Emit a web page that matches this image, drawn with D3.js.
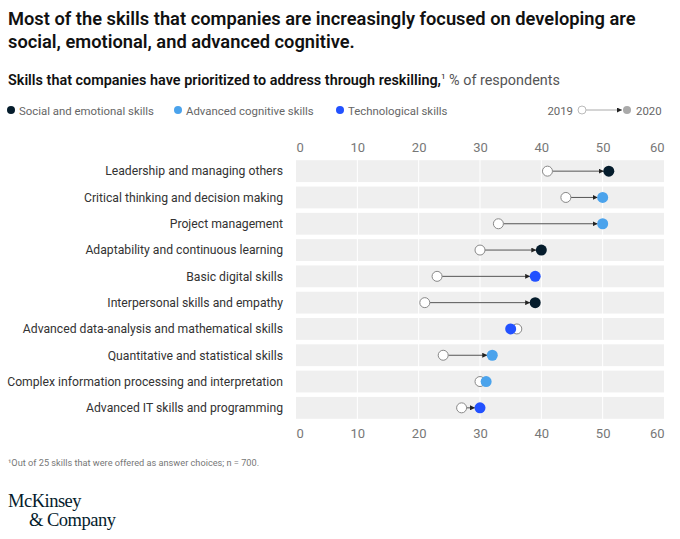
<!DOCTYPE html>
<html>
<head>
<meta charset="utf-8">
<script src="https://cdn.jsdelivr.net/npm/d3@7"></script>
<style>
  body { margin: 0; background: #fff; font-family: Roboto, "Liberation Sans", sans-serif; }
</style>
</head>
<body>
<div id="chart"></div>
<script>
// Chart data
const skills = [
  "Leadership and managing others",
  "Critical thinking and decision making",
  "Project management",
  "Adaptability and continuous learning",
  "Basic digital skills",
  "Interpersonal skills and empathy",
  "Advanced data-analysis and mathematical skills",
  "Quantitative and statistical skills",
  "Complex information processing and interpretation",
  "Advanced IT skills and programming"
];
const values2019 = [41, 44, 33, 30, 23, 21, 36, 24, 30, 27];
const values2020 = [51, 50, 50, 40, 39, 39, 35, 32, 31, 30];
const skillGroups = ["social", "cognitive", "cognitive", "social", "tech", "social", "tech", "cognitive", "cognitive", "tech"];
const groupNames = ["Social and emotional skills", "Advanced cognitive skills", "Technological skills"];
const groupKeys = ["social", "cognitive", "tech"];
const xTicks = [0, 10, 20, 30, 40, 50, 60];

const width = 680, height = 539;

const colorScale = d3.scaleOrdinal()
  .domain(groupKeys)
  .range(["#051c2c", "#4ba3ec", "#2251ff"]);

const svg = d3.select("#chart")
  .append("svg")
  .attr("width", width)
  .attr("height", height);

// Arrow marker
svg.append("defs").append("marker")
  .attr("id", "arrow")
  .attr("viewBox", "0 0 10 10")
  .attr("refX", 10)
  .attr("refY", 5)
  .attr("markerWidth", 5)
  .attr("markerHeight", 5)
  .attr("markerUnits", "userSpaceOnUse")
  .attr("orient", "auto")
  .append("path")
  .attr("d", "M0,0L10,5L0,10z")
  .attr("fill", "#222");

// Title
const title = svg.append("text")
  .attr("x", 8)
  .attr("font-size", 18.3)
  .attr("font-weight", 600)
  .attr("fill", "#111");
title.append("tspan").attr("x", 8).attr("y", 25)
  .text("Most of the skills that companies are increasingly focused on developing are");
title.append("tspan").attr("x", 8).attr("y", 48)
  .text("social, emotional, and advanced cognitive.");

// Subtitle
const sub = svg.append("text")
  .attr("x", 8)
  .attr("y", 85)
  .attr("font-size", 14.4)
  .attr("fill", "#111");
sub.append("tspan").attr("font-weight", 600)
  .text("Skills that companies have prioritized to address through reskilling,");
sub.append("tspan").attr("font-size", 8).attr("dy", -6).text("1");
sub.append("tspan").attr("dy", 6).attr("fill", "#555").text(" % of respondents");

// Legend
const legendX = [11, 178, 340];
groupKeys.forEach((k, i) => {
  svg.append("circle")
    .attr("cx", legendX[i]).attr("cy", 110).attr("r", 4)
    .attr("fill", colorScale(k));
  svg.append("text")
    .attr("x", legendX[i] + 8).attr("y", 114.5)
    .attr("font-size", 11.4).attr("fill", "#666")
    .text(groupNames[i]);
});

svg.append("text").attr("x", 573).attr("y", 114.5)
  .attr("font-size", 11.4).attr("fill", "#666").attr("text-anchor", "end").text("2019");
svg.append("line")
  .attr("x1", 586).attr("x2", 622).attr("y1", 110).attr("y2", 110)
  .attr("stroke", "#aaa").attr("stroke-width", 1)
  .attr("marker-end", "url(#arrow)");
svg.append("circle").attr("cx", 582).attr("cy", 110).attr("r", 4)
  .attr("fill", "#fff").attr("stroke", "#bbb");
svg.append("circle").attr("cx", 627).attr("cy", 110).attr("r", 4)
  .attr("fill", "#aaa");
svg.append("text").attr("x", 636).attr("y", 114.5)
  .attr("font-size", 11.4).attr("fill", "#666").text("2020");

// Scales
const xScale = d3.scaleLinear()
  .domain([0, 60])
  .range([296, 664]);

const yScale = d3.scaleBand()
  .domain(skills)
  .range([158, 421])
  .paddingInner(0.17)
  .paddingOuter(0.085);

// Background bands
svg.selectAll(".band")
  .data(skills)
  .enter()
  .append("rect")
  .attr("class", "band")
  .attr("x", xScale(0))
  .attr("y", d => yScale(d))
  .attr("width", xScale(60) - xScale(0))
  .attr("height", yScale.bandwidth())
  .attr("fill", "#efefef");

// White vertical gridlines
svg.selectAll(".grid")
  .data(xTicks.slice(1, -1))
  .enter()
  .append("line")
  .attr("class", "grid")
  .attr("x1", d => xScale(d))
  .attr("x2", d => xScale(d))
  .attr("y1", 158)
  .attr("y2", 421)
  .attr("stroke", "#fff")
  .attr("stroke-width", 1);

// Top and bottom axes
function drawAxis(axis, y) {
  const g = svg.append("g")
    .attr("transform", "translate(0," + y + ")")
    .call(axis.tickValues(xTicks).tickSize(0).tickPadding(0).tickFormat(d3.format("d")));
  g.select(".domain").remove();
  g.selectAll("text")
    .attr("fill", "#777")
    .attr("font-size", 13)
    .attr("font-family", "Roboto, sans-serif")
    .attr("text-anchor", (d, i) => i === 0 ? "start" : (i === xTicks.length - 1 ? "end" : "middle"));
  return g;
}
drawAxis(d3.axisTop(xScale), 152);
drawAxis(d3.axisBottom(xScale), 429);

// Row labels
svg.selectAll(".row-label")
  .data(skills)
  .enter()
  .append("text")
  .attr("class", "row-label")
  .attr("x", 283)
  .attr("y", d => yScale(d) + yScale.bandwidth() / 2)
  .attr("dy", "0.35em")
  .attr("text-anchor", "end")
  .attr("font-size", 12.2)
  .attr("fill", "#333")
  .text(d => d);

// Dumbbell data
const r = 5;
const rows = skills.map((s, i) => ({
  skill: s,
  v2019: values2019[i],
  v2020: values2020[i],
  group: skillGroups[i]
}));

// Connecting arrows
rows.forEach(d => {
  const x1 = xScale(d.v2019), x2 = xScale(d.v2020);
  const dir = Math.sign(x2 - x1);
  const start = x1 + dir * r, end = x2 - dir * r;
  if ((end - start) * dir > 2) {
    svg.append("line")
      .attr("x1", start).attr("x2", end)
      .attr("y1", yScale(d.skill) + yScale.bandwidth() / 2)
      .attr("y2", yScale(d.skill) + yScale.bandwidth() / 2)
      .attr("stroke", "#555")
      .attr("stroke-width", 1)
      .attr("marker-end", "url(#arrow)");
  }
});

// 2019 circles
svg.selectAll(".dot-2019")
  .data(rows)
  .enter()
  .append("circle")
  .attr("class", "dot-2019")
  .attr("cx", d => xScale(d.v2019))
  .attr("cy", d => yScale(d.skill) + yScale.bandwidth() / 2)
  .attr("r", r)
  .attr("fill", "#fff")
  .attr("stroke", "#888")
  .attr("stroke-width", 1);

// 2020 circles
svg.selectAll(".dot-2020")
  .data(rows)
  .enter()
  .append("circle")
  .attr("class", "dot-2020")
  .attr("cx", d => xScale(d.v2020))
  .attr("cy", d => yScale(d.skill) + yScale.bandwidth() / 2)
  .attr("r", r + 0.5)
  .attr("fill", d => colorScale(d.group));

// Footnote
svg.append("text")
  .attr("x", 8).attr("y", 466)
  .attr("font-size", 9.2)
  .attr("fill", "#777")
  .text("\u00b9Out of 25 skills that were offered as answer choices; n = 700.");

// Logo
const logo = svg.append("text")
  .attr("font-family", "'Liberation Serif', 'DejaVu Serif', serif")
  .attr("font-size", 18.5)
  .attr("fill", "#051c2c")
  .attr("letter-spacing", -0.5);
logo.append("tspan").attr("x", 8).attr("y", 507).text("McKinsey");
logo.append("tspan").attr("x", 29).attr("y", 526).text("& Company");
</script>
</body>
</html>
